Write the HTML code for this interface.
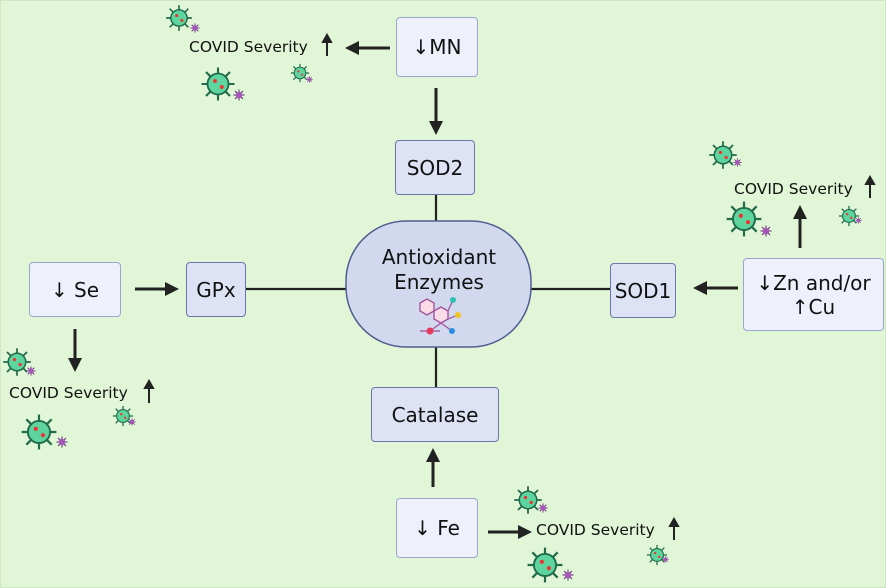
<!DOCTYPE html>
<html><head><meta charset="utf-8"><style>
body{margin:0;width:886px;height:588px;background:#fff;font-family:"DejaVu Sans","Liberation Sans",sans-serif;overflow:hidden}
#c{position:absolute;left:0;top:0;width:884px;height:586px;background:#e1f5d7;border:1px solid #cfe6c4}
.b{position:absolute;background:#eef1fb;border:1.5px solid #9aa6cf;border-radius:4px;box-sizing:border-box;display:flex;align-items:center;justify-content:center;font-size:20px;color:#111;text-align:center;line-height:24px}
.b2{background:#dde2f4;border-color:#6a77aa}
.t{position:absolute;font-size:15.5px;color:#111;white-space:nowrap}
svg{position:absolute;left:0;top:0}
</style></head><body><div id="c"></div>
<svg width="886" height="588">
<defs>
<marker id="a" markerWidth="14" markerHeight="14" refX="7" refY="7" orient="auto" markerUnits="userSpaceOnUse" viewBox="0 0 14 14"><path d="M0,0 L14,7 L0,14z" fill="#222"/></marker>
<symbol id="v" viewBox="-12 -12 24 24">
<g stroke="#1f6b4a" stroke-width="1.4"><line x1="0" y1="-11" x2="0" y2="11"/><line x1="-11" y1="0" x2="11" y2="0"/><line x1="-8" y1="-8" x2="8" y2="8"/><line x1="-8" y1="8" x2="8" y2="-8"/></g>
<circle r="7" fill="#5ed49e" stroke="#1f6b4a" stroke-width="1.2"/><circle cx="-2" cy="-2" r="1.3" fill="#e33"/><circle cx="2.5" cy="2" r="1.3" fill="#e33"/></symbol>
<symbol id="p" viewBox="-6 -6 12 12"><g stroke="#5a2a6a" stroke-width="1"><line x1="0" y1="-5.5" x2="0" y2="5.5"/><line x1="-5.5" y1="0" x2="5.5" y2="0"/><line x1="-4" y1="-4" x2="4" y2="4"/><line x1="-4" y1="4" x2="4" y2="-4"/></g><circle r="3.3" fill="#a556b8"/></symbol>
</defs>
<g stroke="#222" stroke-width="2.2" fill="none">
<line x1="436" y1="195" x2="436" y2="222"/><line x1="436" y1="347" x2="436" y2="387"/>
<line x1="246" y1="289" x2="346" y2="289"/><line x1="531" y1="289" x2="610" y2="289"/>
</g>
<g stroke="#222" stroke-width="3" fill="none">
<line x1="390" y1="48" x2="352" y2="48" marker-end="url(#a)"/>
<line x1="436" y1="88" x2="436" y2="128" marker-end="url(#a)"/>
<line x1="135" y1="289" x2="172" y2="289" marker-end="url(#a)"/>
<line x1="75" y1="329" x2="75" y2="365" marker-end="url(#a)"/>
<line x1="738" y1="288" x2="700" y2="288" marker-end="url(#a)"/>
<line x1="800" y1="248" x2="800" y2="212" marker-end="url(#a)"/>
<line x1="433" y1="487" x2="433" y2="455" marker-end="url(#a)"/>
<line x1="488" y1="532" x2="525" y2="532" marker-end="url(#a)"/>
</g>
<g stroke="#222" stroke-width="2">
<line x1="327" y1="56" x2="327" y2="38"/><path d="M323,42 L327,35 L331,42z" fill="#222"/>
<line x1="149" y1="403" x2="149" y2="384"/><path d="M145,388 L149,381 L153,388z" fill="#222"/>
<line x1="870" y1="198" x2="870" y2="180"/><path d="M866,184 L870,177 L874,184z" fill="#222"/>
<line x1="674" y1="540" x2="674" y2="522"/><path d="M670,526 L674,519 L678,526z" fill="#222"/>
</g>
<rect x="346" y="221" width="185" height="126" rx="60" fill="#d2d9ef" stroke="#4f5f8f" stroke-width="1.5"/>
<g stroke="#a04d9a" stroke-width="1.3" fill="#f9dce6"><polygon points="420,303 427,299 434,303 434,311 427,315 420,311"/><polygon points="434,311 441,307 448,311 448,319 441,323 434,319"/></g>
<g stroke="#a04d9a" stroke-width="1.2"><line x1="448" y1="311" x2="453" y2="300"/><line x1="448" y1="319" x2="458" y2="315"/><line x1="441" y1="323" x2="430" y2="331"/><line x1="441" y1="323" x2="452" y2="331"/><line x1="420" y1="331" x2="440" y2="331"/></g>
<circle cx="453" cy="300" r="3" fill="#2ac1b0"/><circle cx="458" cy="315" r="3" fill="#f4c520"/><circle cx="430" cy="331" r="3.5" fill="#e5395a"/><circle cx="452" cy="331" r="3" fill="#2a8fe0"/>
<use href="#v" x="165" y="4" width="28" height="28"/><use href="#p" x="190" y="23" width="10" height="10"/>
<use href="#v" x="200" y="66" width="36" height="36"/><use href="#p" x="233" y="89" width="12" height="12"/>
<use href="#v" x="290" y="63" width="20" height="20"/><use href="#p" x="306" y="76" width="7" height="7"/>
<use href="#v" x="708" y="140" width="30" height="30"/><use href="#p" x="733" y="158" width="9" height="9"/>
<use href="#v" x="725" y="200" width="38" height="38"/><use href="#p" x="760" y="225" width="12" height="12"/>
<use href="#v" x="838" y="205" width="22" height="22"/><use href="#p" x="855" y="217" width="7" height="7"/>
<use href="#v" x="2" y="347" width="30" height="30"/><use href="#p" x="26" y="366" width="10" height="10"/>
<use href="#v" x="20" y="413" width="38" height="38"/><use href="#p" x="56" y="436" width="12" height="12"/>
<use href="#v" x="112" y="405" width="22" height="22"/><use href="#p" x="128" y="418" width="8" height="8"/>
<use href="#v" x="513" y="485" width="30" height="30"/><use href="#p" x="538" y="503" width="10" height="10"/>
<use href="#v" x="526" y="546" width="38" height="38"/><use href="#p" x="562" y="569" width="12" height="12"/>
<use href="#v" x="646" y="544" width="22" height="22"/><use href="#p" x="662" y="556" width="7" height="7"/>
</svg>
<div class="t" style="left:372px;top:245px;font-size:20px;line-height:25px;text-align:center;width:134px;white-space:normal">Antioxidant Enzymes</div>
<div class="b" style="left:396px;top:17px;width:82px;height:60px">↓MN</div>
<div class="b b2" style="left:395px;top:140px;width:80px;height:55px">SOD2</div>
<div class="b" style="left:29px;top:262px;width:92px;height:55px">↓ Se</div>
<div class="b b2" style="left:186px;top:262px;width:60px;height:55px">GPx</div>
<div class="b b2" style="left:610px;top:263px;width:66px;height:55px">SOD1</div>
<div class="b" style="left:743px;top:258px;width:141px;height:73px">↓Zn and/or<br>↑Cu</div>
<div class="b b2" style="left:371px;top:387px;width:128px;height:55px">Catalase</div>
<div class="b" style="left:396px;top:498px;width:82px;height:60px">↓ Fe</div>
<div class="t" style="left:189px;top:38px">COVID Severity</div>
<div class="t" style="left:734px;top:180px">COVID Severity</div>
<div class="t" style="left:9px;top:384px">COVID Severity</div>
<div class="t" style="left:536px;top:521px">COVID Severity</div>
</body></html>
